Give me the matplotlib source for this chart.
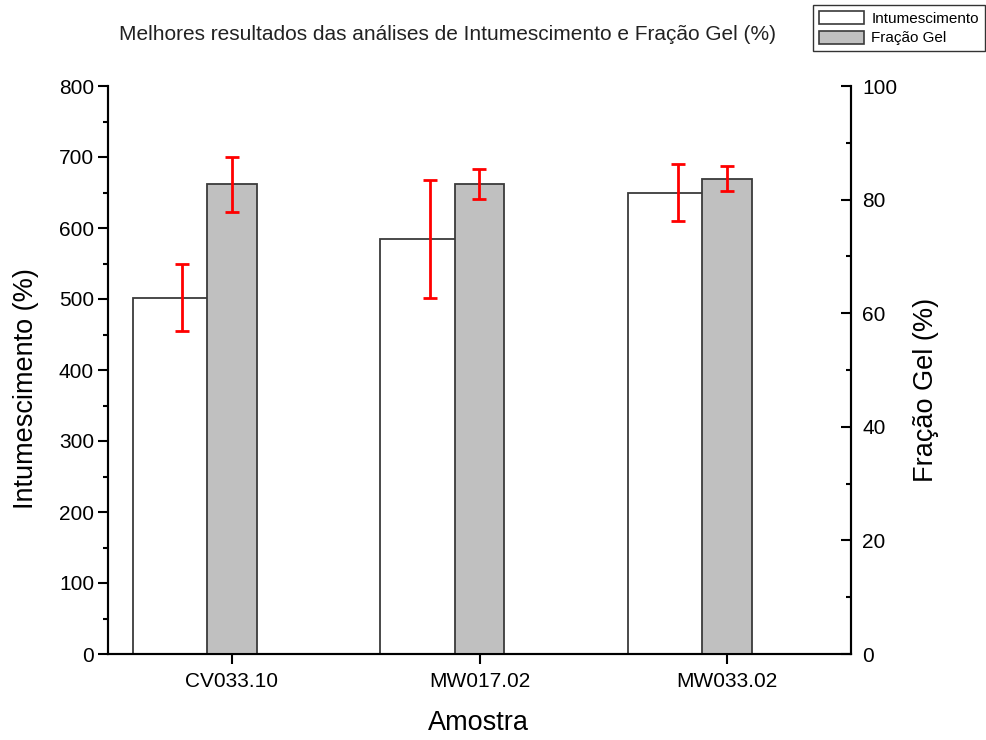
import matplotlib
matplotlib.use("Agg")
import matplotlib.pyplot as plt
import numpy as np
from matplotlib.patches import Patch

plt.rcParams['font.family'] = ['Liberation Sans', 'DejaVu Sans']

categories = ["CV033.10", "MW017.02", "MW033.02"]
intumescimento = [502, 585, 650]
intumescimento_err = [47.5, 83, 40.5]
fracao_gel = [82.7, 82.7, 83.7]
fracao_gel_err = [4.85, 2.65, 2.2]

title = "Melhores resultados das análises de Intumescimento e Fração Gel (%)"

fig = plt.figure(figsize=(9.87, 7.40), dpi=100)
ax = fig.add_axes([108/987, 86/740, 743/987, 568/740])
ax2 = ax.twinx()

x = np.arange(1, len(categories) + 1)
edge = '#3a3a3a'

ax.bar(x - 0.2, intumescimento, width=0.4, color='white', edgecolor=edge, linewidth=1.3, zorder=2)
ax.errorbar(x - 0.2, intumescimento, yerr=intumescimento_err, fmt='none', ecolor='red',
            elinewidth=2, capsize=4.7, capthick=2, zorder=3)

ax2.bar(x, fracao_gel, width=0.2, color='#c0c0c0', edgecolor=edge, linewidth=1.3, zorder=2)
ax2.errorbar(x, fracao_gel, yerr=fracao_gel_err, fmt='none', ecolor='red',
             elinewidth=2, capsize=4.7, capthick=2, zorder=3)

ax.set_xlim(0.5, 3.5)
ax.set_ylim(0, 800)
ax2.set_ylim(0, 100)

ax.set_xticks(x)
ax.set_xticklabels(categories)
ax.set_yticks(np.arange(0, 801, 100))
ax.set_yticks(np.arange(50, 800, 100), minor=True)
ax2.set_yticks(np.arange(0, 101, 20))
ax2.set_yticks(np.arange(10, 100, 20), minor=True)

for a in (ax, ax2):
    a.spines['top'].set_visible(False)
    for s in a.spines.values():
        s.set_linewidth(1.5)

ax.tick_params(axis='y', which='major', direction='out', length=7, width=1.5, labelsize=15, pad=3)
ax.tick_params(axis='y', which='minor', direction='out', length=3.5, width=1.5)
ax.tick_params(axis='x', which='major', direction='out', length=7, width=1.5, labelsize=15, pad=6)
ax2.tick_params(axis='y', which='major', direction='in', length=7, width=1.5, labelsize=15, pad=8)
ax2.tick_params(axis='y', which='minor', direction='in', length=3.5, width=1.5)

ax.set_ylabel("Intumescimento (%)", fontsize=19.5)
ax.yaxis.set_label_coords(-0.093, 0.467)
ax2.set_ylabel("Fração Gel (%)", fontsize=19.5)
ax2.yaxis.set_label_coords(1.083, 0.465)
ax.set_xlabel("Amostra", fontsize=19.5)
ax.xaxis.set_label_coords(0.498, -0.098)

fig.text(448/987, 1 - 35/740, title, ha='center', va='center', fontsize=15, color='#222222')

handles = [Patch(facecolor='white', edgecolor=edge, linewidth=1.2, label='Intumescimento'),
           Patch(facecolor='#c0c0c0', edgecolor=edge, linewidth=1.2, label='Fração Gel')]
leg = fig.legend(handles=handles, loc='upper right', bbox_to_anchor=(985/987, 1 - 5/740),
                 fontsize=11, frameon=True, fancybox=False, framealpha=1, edgecolor='#333333',
                 borderpad=0.4, handlelength=2.9, handleheight=0.95, handletextpad=0.5,
                 labelspacing=0.3, borderaxespad=0)
leg.get_frame().set_linewidth(1.0)

fig.savefig("out.png", dpi=100)
